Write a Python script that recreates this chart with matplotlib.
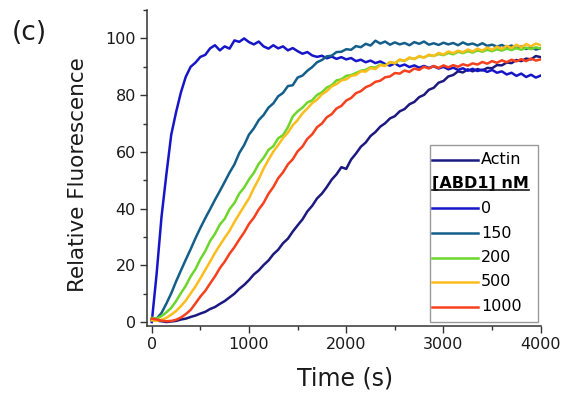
import matplotlib
matplotlib.use("Agg")
import matplotlib.pyplot as plt
from matplotlib.lines import Line2D
from matplotlib.patches import Rectangle
from matplotlib.ticker import MultipleLocator

plt.rcParams["font.family"] = ["DejaVu Sans"]

# time axis, one reading every 50 s
TIME_S = list(range(0, 4001, 50))

ACTIN = [0.8, 0.5, 0.3, 0.0, 0.2, 0.4, 0.9, 1.2, 1.8, 2.3,
         3.0, 3.6, 4.6, 5.3, 6.4, 7.4, 8.7, 10.0, 11.7, 13.1,
         14.8, 16.8, 18.2, 20.1, 21.7, 23.9, 25.5, 27.8, 29.4, 31.9,
         34.1, 36.2, 39.0, 41.0, 43.6, 45.3, 47.6, 50.2, 52.1, 54.6,
         54.0, 57.3, 59.4, 61.8, 63.3, 65.6, 67.0, 68.9, 70.1, 71.8,
         72.6, 74.3, 75.1, 76.8, 77.6, 79.3, 80.1, 81.9, 82.6, 84.4,
         85.0, 86.6, 87.1, 88.4, 88.0, 89.1, 88.4, 89.2, 88.7, 89.6,
         89.5, 90.6, 90.5, 91.5, 91.3, 92.4, 92.0, 92.9, 92.6, 93.8,
         93.4]

ABD1_0 = [0.0, 17.0, 37.0, 52.0, 66.0, 74.0, 81.0, 86.5, 90.0, 91.5,
          93.5, 94.2, 96.5, 97.6, 95.8, 97.2, 96.4, 99.3, 98.8, 100.0,
          98.7, 97.9, 98.9, 97.2, 96.4, 97.6, 96.5, 97.2, 95.8, 96.6,
          95.5, 94.6, 95.2, 94.0, 93.5, 93.9, 93.0, 93.6, 92.8, 93.4,
          92.6, 93.1, 92.0, 92.5, 91.6, 92.2, 91.3, 91.9, 91.0, 90.4,
          91.2, 90.2, 90.8, 89.9, 90.5, 89.7, 90.3, 89.6, 90.2, 89.4,
          90.0, 89.1, 89.7, 88.9, 89.5, 88.6, 89.3, 88.5, 89.0, 88.2,
          88.9, 87.9, 88.4, 87.3, 87.9, 86.8, 87.6, 86.4, 87.2, 86.2,
          86.9]

ABD1_150 = [0.8, 1.2, 3.2, 6.5, 10.1, 14.3, 18.2, 22.0, 25.7, 29.6,
            33.2, 36.6, 39.8, 43.1, 46.2, 49.4, 52.7, 55.6, 59.6, 62.4,
            66.1, 68.3, 71.2, 73.0, 75.6, 77.1, 79.6, 80.8, 83.2, 83.5,
            86.2, 86.9, 88.6, 89.9, 91.6, 92.4, 93.7, 93.9, 95.2, 95.3,
            96.2, 96.0, 97.3, 96.9, 98.1, 97.5, 99.2, 98.2, 98.9, 97.8,
            98.6, 97.9, 98.4, 97.6, 98.7, 98.1, 98.9, 97.8, 98.3, 97.7,
            98.5, 97.9, 98.4, 97.6, 98.6, 97.8, 98.2, 97.5, 98.3, 97.4,
            97.8, 97.1, 97.7, 96.9, 97.5, 96.6, 97.2, 96.3, 96.9, 96.1,
            96.5]

ABD1_200 = [1.5, 1.2, 2.1, 3.4, 5.0, 7.4, 10.2, 12.8, 16.1, 18.7,
            22.2, 25.0, 28.6, 31.1, 34.4, 36.4, 39.8, 42.0, 45.3, 47.4,
            50.3, 52.6, 55.8, 57.9, 60.7, 62.0, 64.8, 65.9, 68.7, 72.5,
            74.3, 75.6, 77.4, 78.2, 80.1, 81.0, 82.7, 83.5, 85.2, 85.6,
            86.8, 87.1, 87.8, 88.6, 88.9, 89.9, 89.7, 90.8, 90.5, 91.6,
            91.3, 92.4, 92.1, 93.1, 92.8, 93.6, 93.3, 94.1, 93.8, 94.5,
            94.1, 94.9, 94.4, 95.3, 94.8, 95.5, 95.0, 95.8, 95.3, 96.0,
            95.5, 96.2, 95.7, 96.4, 95.9, 96.6, 96.0, 96.8, 96.2, 96.9,
            96.4]

ABD1_500 = [0.6, 0.4, 0.8, 1.5, 2.6, 3.9, 5.6, 7.6, 10.1, 12.6,
            15.4, 18.4, 21.3, 24.4, 27.1, 29.7, 32.2, 35.3, 38.1, 40.9,
            43.6, 47.2, 50.4, 54.1, 57.2, 60.1, 62.4, 64.9, 66.8, 69.4,
            71.2, 73.6, 75.3, 77.2, 78.4, 80.3, 81.4, 83.1, 83.9, 85.2,
            85.6, 86.8, 87.1, 88.4, 88.3, 89.6, 89.2, 90.6, 90.3, 91.7,
            91.2, 92.6, 92.1, 93.3, 92.7, 93.8, 93.2, 94.3, 93.8, 94.9,
            94.3, 95.4, 94.8, 95.7, 95.1, 96.1, 95.4, 96.4, 95.7, 96.8,
            96.0, 97.1, 96.3, 97.4, 96.6, 97.8, 96.9, 98.0, 97.2, 98.2,
            97.6]

ABD1_1000 = [1.2, 0.9, 0.5, 0.3, 0.4, 0.8, 1.6, 2.8, 4.3, 6.6,
             9.0, 11.0, 13.6, 16.1, 19.0, 21.3, 24.1, 26.4, 29.1, 31.6,
             34.6, 36.8, 39.7, 42.0, 45.2, 47.6, 50.7, 52.8, 55.6, 57.4,
             60.2, 61.9, 64.6, 66.2, 68.7, 70.0, 72.2, 73.3, 75.3, 76.2,
             78.1, 79.0, 80.7, 81.4, 82.8, 83.5, 84.7, 85.1, 86.3, 86.6,
             87.8, 87.6, 88.7, 88.2, 89.4, 88.9, 90.0, 89.4, 90.3, 89.6,
             90.5, 89.8, 90.6, 90.0, 90.9, 90.4, 91.2, 90.8, 91.7, 91.1,
             92.0, 91.4, 92.3, 91.6, 92.5, 91.9, 92.7, 92.0, 92.9, 92.2,
             92.6]

CONC_LABELS = ["0", "150", "200", "500", "1000"]
CONC_SERIES = [ABD1_0, ABD1_150, ABD1_200, ABD1_500, ABD1_1000]
CONC_COLORS = ["#1616c8", "#145f8a", "#6cd62a", "#fcbd1c", "#f6401e"]
ACTIN_COLOR = "#1c1a80"

fig = plt.figure(figsize=(5.65, 4.03), dpi=100)
ax = fig.add_axes([0.260, 0.191, 0.697, 0.784])

lw = 1.8
ax.plot(TIME_S, ACTIN, color=ACTIN_COLOR, lw=lw)
for vals, col in zip(CONC_SERIES, CONC_COLORS):
    ax.plot(TIME_S, vals, color=col, lw=lw)

ax.set_xlim(-50, 4000)
ax.set_ylim(-1.4, 110)
ax.xaxis.set_major_locator(MultipleLocator(1000))
ax.xaxis.set_minor_locator(MultipleLocator(500))
ax.yaxis.set_major_locator(MultipleLocator(20))
ax.yaxis.set_minor_locator(MultipleLocator(10))
for s in ["top", "right"]:
    ax.spines[s].set_visible(False)
for s in ["left", "bottom"]:
    ax.spines[s].set_color("#333333")
    ax.spines[s].set_linewidth(1.1)
ax.tick_params(which="major", direction="out", length=5, width=1.0, color="#333333",
               labelsize=11.5, labelcolor="#1a1a1a", pad=3)
ax.tick_params(which="minor", direction="out", length=3, width=1.0, color="#333333")

ax.set_xlabel("Time (s)", fontsize=17, color="#1a1a1a")
ax.set_ylabel("Relative Fluorescence", fontsize=15.5, color="#1a1a1a")
ax.xaxis.set_label_coords(0.503, -0.128)
ax.yaxis.set_label_coords(-0.150, 0.478)

fig.text(0.021, 0.918, "(c)", fontsize=19, color="#1a1a1a", va="center", ha="left")

# hand-built legend (needs an underlined heading between entries)
tr = ax.transAxes
box = Rectangle((0.718, 0.013), 0.274, 0.560, transform=tr, facecolor="white",
                edgecolor="#9a9a9a", lw=1.0, zorder=5)
ax.add_patch(box)
h0, h1, tx = 0.724, 0.842, 0.848
ax.add_line(Line2D([h0, h1], [0.527, 0.527], transform=tr, color=ACTIN_COLOR, lw=lw, zorder=6))
ax.text(tx, 0.527, "Actin", transform=tr, fontsize=11.5, va="center", ha="left", zorder=6)
head = ax.text(h0, 0.450, "[ABD1] nM", transform=tr, fontsize=11.5, fontweight="bold",
               va="center", ha="left", zorder=6)
rows_y = [0.372, 0.293, 0.216, 0.140, 0.061]
for lab, col, yy in zip(CONC_LABELS, CONC_COLORS, rows_y):
    ax.add_line(Line2D([h0, h1], [yy, yy], transform=tr, color=col, lw=lw, zorder=6))
    ax.text(tx, yy, lab, transform=tr, fontsize=11.5, va="center", ha="left", zorder=6)

fig.canvas.draw()
bb = head.get_window_extent().transformed(tr.inverted())
ax.add_line(Line2D([bb.x0, bb.x1], [bb.y0 + 0.004, bb.y0 + 0.004], transform=tr,
                   color="#1a1a1a", lw=1.2, zorder=6))

fig.savefig("out.png", dpi=100)
